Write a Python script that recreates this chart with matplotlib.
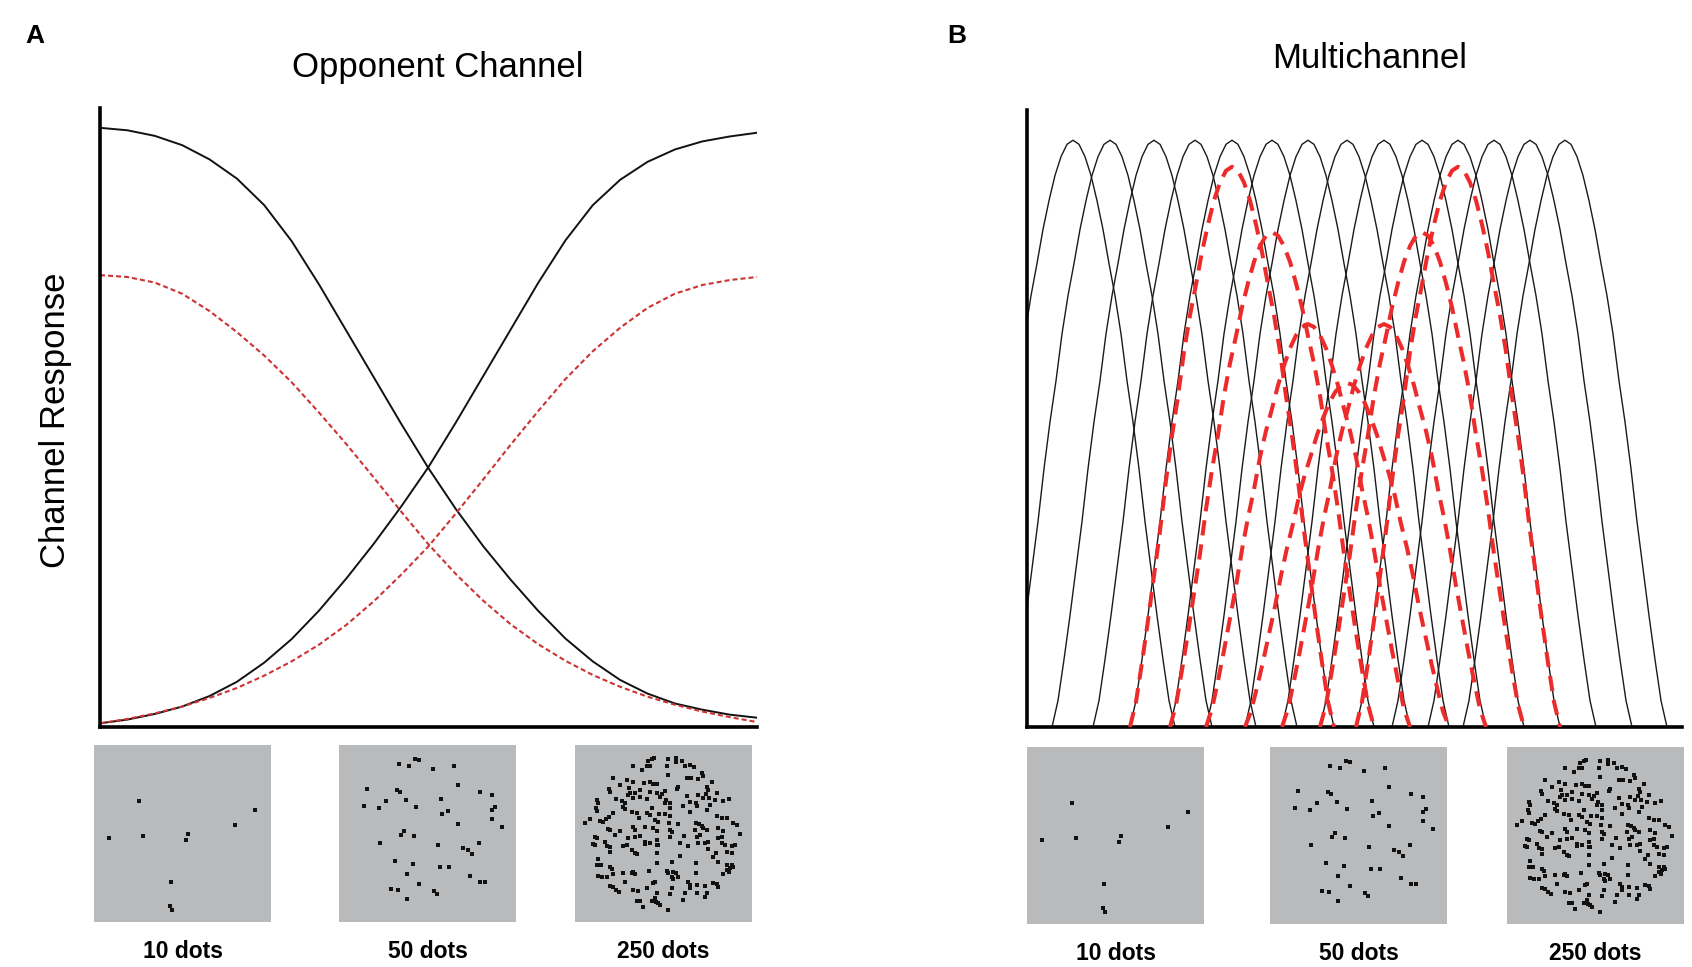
import numpy as np
import matplotlib
matplotlib.use("Agg")
import matplotlib.pyplot as plt

plt.rcParams['font.family'] = ['Liberation Sans', 'DejaVu Sans']
plt.rcParams['lines.scale_dashes'] = False

# ---------------- Panel A data (opponent channels) ----------------
a_x = np.linspace(0, 1, 25)          # sampling positions along the number axis
a_black_dec = [0.968, 0.964, 0.955, 0.940, 0.917, 0.886, 0.843, 0.785, 0.715, 0.640,
               0.565, 0.490, 0.418, 0.352, 0.292, 0.238, 0.188, 0.143, 0.106, 0.076,
               0.054, 0.038, 0.028, 0.020, 0.015]
a_black_inc = [0.006, 0.012, 0.021, 0.033, 0.050, 0.073, 0.104, 0.142, 0.188, 0.240,
               0.296, 0.356, 0.420, 0.492, 0.567, 0.642, 0.717, 0.786, 0.843, 0.884,
               0.913, 0.933, 0.946, 0.954, 0.960]
a_red_dec = [0.730, 0.727, 0.718, 0.700, 0.672, 0.638, 0.600, 0.557, 0.508, 0.457,
             0.403, 0.348, 0.295, 0.247, 0.204, 0.166, 0.134, 0.107, 0.084, 0.065,
             0.049, 0.036, 0.025, 0.016, 0.008]
a_red_inc = [0.006, 0.013, 0.022, 0.033, 0.047, 0.063, 0.083, 0.106, 0.133, 0.165,
             0.203, 0.246, 0.292, 0.345, 0.400, 0.456, 0.510, 0.562, 0.607, 0.645,
             0.677, 0.700, 0.714, 0.722, 0.727]

# ---------------- Panel B data (multichannel) ----------------
# tuning-curve profile: offset from preferred value -> relative response
b_offsets = [0, 6, 12, 18, 24, 30, 36, 42, 48, 54, 60, 66, 72, 78, 84, 90, 96, 102]
b_profile = [1.0, 0.993, 0.972, 0.94, 0.897, 0.848, 0.79, 0.735, 0.67, 0.59,
             0.52, 0.44, 0.35, 0.27, 0.19, 0.115, 0.045, 0.0]
b_channel_peaks = [46, 83, 127, 168, 205, 245, 281, 320, 357, 395, 431, 467, 503, 538]
b_channel_amp = 0.951
b_red_peaks = [205, 245, 281, 320, 357, 395, 431]
b_red_amps = [0.908, 0.802, 0.653, 0.558, 0.653, 0.802, 0.908]

# ---------------- Stimulus dot positions (fractions of the square, y down) ----------------
dots10 = [(0.254, 0.315), (0.912, 0.370), (0.799, 0.454), (0.083, 0.525), (0.279, 0.516),
          (0.530, 0.501), (0.518, 0.538), (0.435, 0.773), (0.432, 0.910), (0.440, 0.934)]
dots50 = [(.431, .079), (.454, .084), (.340, .107), (.393, .118), (.533, .135), (.652, .116),
          (.670, .225), (.157, .250), (.330, .255), (.343, .266), (.794, .266), (.863, .281),
          (.266, .319), (.381, .313), (.574, .306), (.142, .343), (.228, .356), (.437, .351),
          (.863, .366), (.883, .353), (.584, .388), (.614, .375), (.863, .418), (.675, .445),
          (.919, .463), (.368, .488), (.350, .510), (.424, .516), (.231, .553), (.558, .567),
          (.792, .555), (.703, .582), (.731, .591), (.749, .614), (.315, .657), (.416, .670),
          (.569, .689), (.624, .690), (.386, .728), (.741, .741), (.799, .775), (.827, .773),
          (.454, .784), (.292, .816), (.332, .818), (.536, .826), (.553, .842), (.383, .872)]
# 250-dot stimulus, read in two strips (pixel coords of a 3x crop; top strip / bottom strip)
dots250_top = [(235, 62), (245, 58), (252, 53), (295, 57), (318, 55), (318, 65), (337, 62),
    (190, 77), (215, 90), (230, 78), (240, 78), (290, 78), (345, 78), (360, 75), (372, 82),
    (130, 115), (295, 105), (352, 113), (362, 113), (385, 118), (397, 100), (400, 108), (425, 127),
    (150, 135), (172, 120), (190, 125), (222, 128), (240, 125), (250, 132), (260, 133), (323, 140),
    (320, 148), (412, 140), (415, 150),
    (117, 148), (120, 155), (178, 145), (210, 150), (195, 158), (180, 160), (175, 165), (285, 152),
    (240, 155), (262, 160), (275, 163), (352, 168), (385, 165), (408, 163), (440, 160),
    (80, 180), (83, 190), (137, 178), (155, 183), (165, 188), (190, 175), (210, 170), (230, 178),
    (270, 172), (288, 180), (285, 188), (300, 190), (360, 185), (378, 190), (400, 173), (418, 175),
    (435, 180), (458, 183), (478, 176),
    (78, 205), (82, 212), (160, 200), (165, 207), (245, 205), (300, 205), (338, 197), (380, 198),
    (410, 210), (420, 195),
    (130, 220), (185, 215), (200, 218), (230, 220), (240, 225), (268, 222), (285, 222), (300, 228),
    (360, 215), (440, 228), (455, 233), (470, 235), (118, 232), (108, 238),
    (45, 248), (60, 238), (90, 243), (100, 245), (208, 235), (255, 240), (265, 245), (298, 250),
    (325, 252), (378, 248), (388, 252), (395, 258), (490, 250), (500, 255),
    (115, 268), (120, 270), (150, 272), (190, 262), (195, 270), (225, 262), (250, 265), (260, 272),
    (300, 270), (305, 275), (375, 270), (400, 265), (410, 270), (445, 265), (460, 272)]
dots250_bot = [(75, 20), (80, 25), (105, 35), (135, 15), (175, 25), (195, 22), (210, 18), (225, 35),
    (240, 40), (262, 30), (265, 45), (300, 20), (343, 18), (380, 20), (390, 15), (445, 25),
    (455, 20), (510, 12),
    (70, 42), (75, 45), (110, 48), (120, 52), (160, 48), (170, 45), (185, 60), (195, 70), (225, 42),
    (260, 45), (330, 40), (355, 48), (385, 40), (405, 40), (415, 35), (455, 40), (465, 45),
    (485, 48), (495, 45), (415, 58),
    (120, 65), (200, 72), (262, 70), (330, 78), (438, 68), (470, 65), (485, 68), (430, 82),
    (85, 88), (80, 105), (93, 105), (120, 112), (125, 118), (262, 100), (305, 95), (378, 100),
    (445, 95), (470, 105), (485, 105), (490, 112),
    (85, 138), (95, 140), (110, 140), (130, 133), (160, 130), (185, 130), (190, 125), (195, 133),
    (237, 122), (290, 122), (295, 128), (310, 125), (318, 128), (305, 140), (308, 148), (325, 140),
    (378, 130), (460, 132), (478, 125), (480, 115), (470, 120),
    (165, 157), (120, 168), (130, 172), (250, 160), (255, 155), (355, 155), (360, 165), (380, 165),
    (405, 168), (430, 158), (440, 162), (445, 170), (230, 175), (190, 180), (205, 183), (305, 175),
    (360, 175), (345, 188), (380, 188), (410, 190), (405, 200),
    (137, 180), (148, 185), (260, 188), (255, 205), (300, 192), (340, 210), (200, 212), (210, 213),
    (245, 212), (258, 215), (270, 225), (220, 232), (295, 240), (265, 220)]

stim_labels = ["10 dots", "50 dots", "250 dots"]

# ---------------- Figure ----------------
W, H = 1692, 967
fig = plt.figure(figsize=(W / 100, H / 100), dpi=100)


def ax_px(x0, y0, x1, y1):
    return fig.add_axes([x0 / W, 1 - y1 / H, (x1 - x0) / W, (y1 - y0) / H])


def style_axes(ax):
    for s in ("top", "right"):
        ax.spines[s].set_visible(False)
    for s in ("left", "bottom"):
        ax.spines[s].set_linewidth(2.6)
        ax.spines[s].set_color("black")
    ax.set_xticks([])
    ax.set_yticks([])
    ax.patch.set_alpha(0)


# Panel A
axA = ax_px(100, 108, 757, 727)
style_axes(axA)
axA.set_xlim(0, 1)
axA.set_ylim(0, 1)
axA.plot(a_x, a_black_dec, color="#111111", lw=1.4, solid_joinstyle="round")
axA.plot(a_x, a_black_inc, color="#111111", lw=1.4, solid_joinstyle="round")
axA.plot(a_x, a_red_dec, color="#cc3333", lw=1.5, linestyle=(0, (3.6, 2.2)))
axA.plot(a_x, a_red_inc, color="#cc3333", lw=1.5, linestyle=(0, (3.6, 2.2)))

# Panel B
axB = ax_px(1027, 110, 1682, 727)
style_axes(axB)
axB.set_xlim(0, 655)
axB.set_ylim(0, 1)
offs = np.array(b_offsets, dtype=float)
prof = np.array(b_profile)
xs_rel = np.concatenate([-offs[::-1], offs[1:]])
ys_rel = np.concatenate([prof[::-1], prof[1:]])
for p in b_channel_peaks:
    axB.plot(p + xs_rel, b_channel_amp * ys_rel, color="#1a1a1a", lw=1.0,
             solid_joinstyle="round")
for p, a in zip(b_red_peaks, b_red_amps):
    axB.plot(p + xs_rel, a * ys_rel, color="#ee2b2b", lw=2.9,
             linestyle=(0, (11, 6.5)), zorder=3)

# Stimulus squares
S = 177
stimA = [(94, 745), (339, 745), (575, 745)]
stimB = [(1027, 747), (1270, 747), (1507, 747)]

d250 = [((x / 3 - 5) / S, (y / 3 - 5) / S) for x, y in dots250_top] + \
       [((x / 3 - 5) / S, (y / 3 + 85) / S) for x, y in dots250_bot]
dot_sets = [dots10, dots50, d250]

for boxes in (stimA, stimB):
    for (bx, by), dots, lab in zip(boxes, dot_sets, stim_labels):
        ax = ax_px(bx, by, bx + S, by + S)
        ax.set_xlim(0, 1)
        ax.set_ylim(1, 0)
        ax.set_facecolor("#b8babc")
        for s in ax.spines.values():
            s.set_visible(False)
        ax.set_xticks([])
        ax.set_yticks([])
        dx = [d[0] for d in dots]
        dy = [d[1] for d in dots]
        ax.scatter(dx, dy, s=9, marker="s", color="#111111", linewidths=0)
        fig.text((bx + S / 2) / W, 1 - (by + S + 29) / H, lab, ha="center", va="center",
                 fontsize=16.5, fontweight="bold")

# Titles and labels
fig.text(438 / W, 1 - 67 / H, "Opponent Channel", ha="center", va="center", fontsize=25)
fig.text(1370 / W, 1 - 58 / H, "Multichannel", ha="center", va="center", fontsize=25)
fig.text(56 / W, 1 - 420 / H, "Channel Response", ha="center", va="center",
         rotation=90, fontsize=25)
fig.text(35 / W, 1 - 36 / H, "A", ha="center", va="center", fontsize=19, fontweight="bold")
fig.text(957 / W, 1 - 36 / H, "B", ha="center", va="center", fontsize=19, fontweight="bold")

fig.savefig("out.png", dpi=100)
